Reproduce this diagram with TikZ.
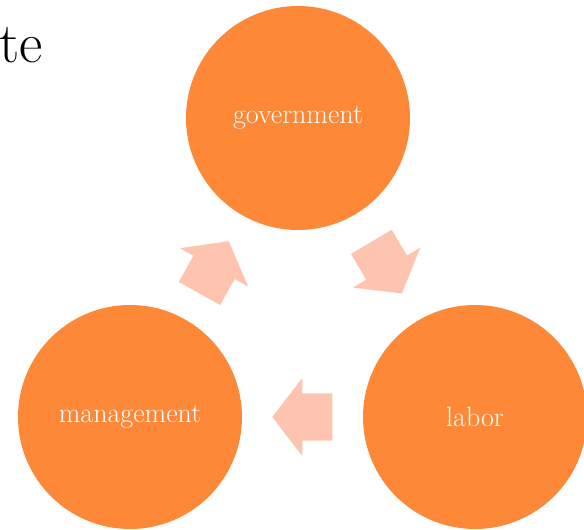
\documentclass[tikz,border=0pt]{standalone}
\usetikzlibrary{shapes.arrows,calc}
\definecolor{cycleorange}{HTML}{FD8838}
\definecolor{cyclepeach}{HTML}{FFC4B0}
\begin{document}
\begin{tikzpicture}[x=1pt,y=1pt,
  stage/.style={circle, fill=cycleorange, draw=none, minimum size=224pt, inner sep=0pt,
    text=white, font=\fontsize{28}{32}\selectfont},
  flowarrow/.style={single arrow, fill=cyclepeach, draw=none,
    inner xsep=0pt, inner ysep=23.5pt,
    minimum height=60pt, single arrow head extend=15.5pt,
    single arrow tip angle=105, sloped, allow upside down, pos=0, anchor=tail}]
  \useasboundingbox (0,0) rectangle (584,530);
  \clip (0,0) rectangle (584,530);

  % heading fragment at the top left
  \node[anchor=base west, inner sep=0pt, font=\fontsize{57}{60}\selectfont] (head) at (-1,467) {te};

  % the three stages of the cycle
  \node[stage] (gov) at (298,412) {government};
  \node[stage] (lab) at (475,113) {labor};
  \node[stage] (man) at (130,113) {management};

  % block arrows centred between the stages, tail placed half a length back
  \path ($(man)!0.5!(gov)!30pt!(man)$) -- node[flowarrow] (a1) {} (gov);
  \path ($(gov)!0.5!(lab)!30pt!(gov)$) -- node[flowarrow] (a2) {} (lab);
  \path ($(lab)!0.5!(man)!30pt!(lab)$) -- node[flowarrow] (a3) {} (man);
\end{tikzpicture}
\end{document}
